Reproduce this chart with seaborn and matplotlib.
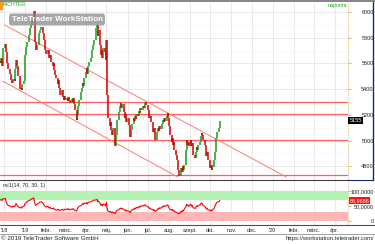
import numpy as np
import pandas as pd
import matplotlib
matplotlib.use("Agg")
import matplotlib.pyplot as plt
import matplotlib.dates as mdates
import seaborn as sns

# ---------------- data ----------------
symbol = "RICHTER"
period_label = "naponta"
rsi_label = "rsi1(14, 70, 30, 1)"
last_price_text = "5155"
last_rsi_text = "68,9686"
watermark = "TeleTrader WorkStation"
copyright_text = "\u00a9 2019 TeleTrader Software GmbH"
url_text = "https://workstation.teletrader.com/"

first_date = "2018-11-26"
last_date = "2019-10-15"
first_open = 5620

close_nov = [5600, 5640, 5580, 5660, 5720]
close_dec = [5750, 5690, 5650, 5600, 5560, 5520, 5490, 5470, 5450, 5480, 5460,
             5560, 5630, 5580, 5500, 5420, 5400, 5410, 5390, 5440, 5460]
close_jan = [5665, 5704, 5728, 5767, 5821, 5837, 5876, 5899, 5938, 6010, 5860,
             5767, 5704, 5743, 5798, 5837, 5860, 5876, 5883, 5837, 5782, 5736, 5704]
close_feb = [5673, 5704, 5658, 5642, 5665, 5611, 5580, 5603, 5549, 5510, 5486,
             5440, 5471, 5409, 5378, 5354, 5393, 5339, 5315, 5346]
close_mar = [5315, 5331, 5308, 5339, 5315, 5292, 5323, 5300, 5331, 5284, 5238,
             5160, 5206, 5269, 5292, 5315, 5378, 5409, 5448, 5424, 5486]
close_apr = [5533, 5564, 5518, 5580, 5611, 5642, 5689, 5704, 5743, 5782, 5837,
             5876, 5899, 5813, 5860, 5743, 5665, 5704, 5642, 5720, 5689, 5627]
close_may = [5782, 5354, 5175, 5113, 5144, 5082, 5043, 5097, 5004, 4957, 5043,
             5113, 5160, 5222, 5269, 5292, 5253, 5284, 5222, 5175, 5206, 5144, 5175]
close_jun = [5121, 5066, 5027, 5082, 5129, 5175, 5152, 5191, 5168, 5206, 5191,
             5230, 5214, 5253, 5238, 5269, 5253, 5284, 5300, 5276]
close_jul = [5238, 5206, 5175, 5191, 5144, 5113, 5066, 5097, 5035, 5004, 5066,
             5097, 5074, 5113, 5090, 5129, 5160, 5144, 5175, 5152, 5191, 5214, 5175]
close_aug = [5113, 5043, 4989, 5020, 4965, 4989, 4926, 4887, 4849, 4810, 4771,
             4724, 4786, 4755, 4802, 4771, 4810, 4926, 5004, 4965, 4989, 4957]
close_sep = [5004, 4957, 4981, 4926, 4887, 4864, 4911, 4950, 4926, 4965, 4989,
             5035, 5059, 5043, 5004, 4965, 4926, 4880, 4911, 4849, 4817]
close_oct = [4786, 4810, 4771, 4794, 4849, 4911, 4965, 5020, 5066, 5097, 5155]

rsi_nov = [70, 72, 68, 72, 74]
rsi_dec = [75, 65, 60, 55, 52, 50, 48, 47, 46, 50, 48, 55, 58, 54, 49, 45, 44,
           45, 43, 48, 50]
rsi_jan = [58, 60, 62, 65, 68, 69, 71, 72, 74, 77, 64, 56, 52, 55, 59, 61, 63,
           64, 64, 58, 53, 50, 48]
rsi_feb = [47, 49, 45, 44, 46, 42, 41, 43, 40, 38, 37, 36, 39, 37, 36, 35, 39,
           37, 36, 39]
rsi_mar = [38, 40, 38, 41, 39, 37, 40, 39, 41, 38, 36, 33, 40, 45, 47, 49, 52,
           55, 58, 56, 60]
rsi_apr = [58, 61, 57, 62, 63, 64, 66, 66, 68, 69, 70, 71, 72, 64, 67, 57, 52,
           55, 50, 56, 54, 50]
rsi_may = [62, 42, 33, 30, 32, 29, 27, 30, 26, 25, 30, 34, 36, 39, 42, 43, 40,
           42, 38, 35, 37, 33, 35]
rsi_jun = [33, 30, 28, 32, 36, 40, 39, 43, 41, 45, 44, 48, 46, 50, 49, 52, 50,
           53, 54, 51]
rsi_jul = [48, 45, 42, 44, 40, 38, 35, 38, 34, 32, 38, 42, 40, 44, 42, 46, 49,
           47, 51, 49, 52, 54, 50]
rsi_aug = [45, 40, 36, 39, 34, 36, 31, 29, 27, 26, 25, 24, 32, 30, 35, 33, 37,
           48, 55, 51, 53, 49]
rsi_sep = [56, 50, 53, 47, 44, 42, 47, 50, 48, 52, 54, 58, 60, 58, 53, 49, 45,
           40, 43, 38, 36]
rsi_oct = [34, 37, 33, 36, 44, 51, 56, 60, 63, 65, 68.9686]

level_lines = [5300, 5204, 5004, 4730]
upper_channel_dates = ["2018-12-02", "2020-01-21"]
upper_channel_prices = [5899, 4716]
lower_channel_dates = ["2018-11-29", "2019-08-14"]
lower_channel_prices = [5463, 4716]

price_ticks = [4800, 5000, 5200, 5400, 5600, 5800, 6000]
price_minor = [4900, 5100, 5300, 5500, 5700, 5900]
rsi_ticks = [0, 50, 100]
rsi_tick_labels = ["0", "50,0000", "100,0000"]
rsi_bands = [(70, 100), (0, 30)]

month_ticks = ["2018-12-01", "2019-01-01", "2019-02-01", "2019-03-01", "2019-04-01",
               "2019-05-01", "2019-06-01", "2019-07-01", "2019-08-01", "2019-09-01",
               "2019-10-01", "2019-11-01", "2019-12-01", "2020-01-01", "2020-02-01",
               "2020-03-01", "2020-04-01"]
month_labels = ["'18", "'19", "febr.", "márc.", "ápr.", "máj.", "jún.", "júl.",
                "aug.", "szept.", "okt.", "nov.", "dec.", "'20", "febr.", "márc.", "ápr."]

# ---------------- build ----------------
dates = pd.bdate_range(first_date, last_date)
close = np.array(close_nov + close_dec + close_jan + close_feb + close_mar + close_apr +
                 close_may + close_jun + close_jul + close_aug + close_sep + close_oct, float)
rsi = np.array(rsi_nov + rsi_dec + rsi_jan + rsi_feb + rsi_mar + rsi_apr + rsi_may +
               rsi_jun + rsi_jul + rsi_aug + rsi_sep + rsi_oct, float)
n = min(len(dates), len(close), len(rsi))
dates = dates[:n]
close = close[:n]
rsi = rsi[:n]
opens = np.r_[first_open, close[:-1]]
df = pd.DataFrame({"date": dates, "open": opens, "close": close, "rsi": rsi})

sns.set_theme(style="white")
plt.rcParams["font.family"] = ["Liberation Sans", "DejaVu Sans"]

W, H = 375, 244
fig = plt.figure(figsize=(W / 100, H / 100), dpi=100)
fig.patch.set_facecolor("white")


def rect(x0, y0, x1, y1):
    return [x0 / W, 1 - y1 / H, (x1 - x0) / W, (y1 - y0) / H]


ax = fig.add_axes(rect(0, 1.5, 348, 179.5))
axr = fig.add_axes(rect(0, 180.5, 348, 224.5))

x0 = mdates.date2num(pd.Timestamp("2019-01-01")) - 25 / 0.679
x1 = mdates.date2num(pd.Timestamp("2019-01-01")) + 323 / 0.679
mt = [mdates.date2num(pd.Timestamp(d)) for d in month_ticks]

grid_c = "#e6e6e6"
for a in (ax, axr):
    a.set_facecolor("white")
    a.set_xlim(x0, x1)
    for s in a.spines.values():
        s.set_visible(False)
    for m in mt:
        a.axvline(m, color=grid_c, lw=0.6, zorder=0)

ax.set_ylim(4697, 6082)
for p in price_ticks:
    ax.axhline(p, color=grid_c, lw=0.6, zorder=0)
for p in price_minor:
    ax.axhline(p, color="#e8e8e8", lw=0.6, ls=(0, (1, 2)), zorder=0)

# levels and channel
line_c = "#ff6060"
for lv in level_lines:
    ax.axhline(lv, color=line_c, lw=0.9, zorder=2)
ux = [mdates.date2num(pd.Timestamp(d)) for d in upper_channel_dates]
lx = [mdates.date2num(pd.Timestamp(d)) for d in lower_channel_dates]
ax.plot(ux, upper_channel_prices, color="#ff7878", lw=0.7, zorder=2)
ax.plot(lx, lower_channel_prices, color="#ff7878", lw=0.7, zorder=2)

# candles
dnum = mdates.date2num(df["date"])
up = (df["close"] >= df["open"]).to_numpy()
lo = np.minimum(df["open"], df["close"]).to_numpy()
hi = np.maximum(df["open"], df["close"]).to_numpy()
ax.vlines(dnum[up], lo[up], hi[up], colors="#1c9a1c", lw=1.1, zorder=3)
ax.vlines(dnum[~up], lo[~up], hi[~up], colors="#d40000", lw=1.1, zorder=3)

# RSI panel
axr.set_ylim(-11.7, 135)
axr.axhspan(rsi_bands[0][0], rsi_bands[0][1], color="#b4f2b4", lw=0, zorder=0.5)
axr.axhspan(rsi_bands[1][0], rsi_bands[1][1], color="#ffb6b6", lw=0, zorder=0.5)
sns.lineplot(x=dnum, y=df["rsi"].to_numpy(), ax=axr, color="#ff0000", lw=0.8, zorder=3)
axr.set_xlabel("")
axr.set_ylabel("")

fs = 4.0
# axes ticks
ax.set_xticks([])
ax.yaxis.tick_right()
ax.set_yticks(price_ticks)
ax.set_yticklabels([str(p) for p in price_ticks])
ax.tick_params(axis="y", length=2, width=0.6, color="#c8b060", pad=16.5,
               labelsize=fs, labelcolor="#222222")
for lab in ax.get_yticklabels():
    lab.set_horizontalalignment("right")

axr.yaxis.tick_right()
axr.set_yticks(rsi_ticks)
axr.set_yticklabels(rsi_tick_labels)
axr.tick_params(axis="y", length=2, width=0.6, color="#c8b060", pad=16.5,
                labelsize=fs, labelcolor="#222222")
for lab in axr.get_yticklabels():
    lab.set_horizontalalignment("right")
axr.set_xticks(mt)
axr.set_xticklabels(month_labels)
axr.tick_params(axis="x", length=0, pad=2.5, labelsize=fs, labelcolor="#222222")

# frames
ax.plot([1, 1], [0, 1], transform=ax.transAxes, color="#d8c47a", lw=0.8,
        ls=(0, (1, 1)), clip_on=False)
axr.plot([1, 1], [0, 1], transform=axr.transAxes, color="#d8c47a", lw=0.8,
         ls=(0, (1, 1)), clip_on=False)
fig.add_artist(plt.Line2D([0, 1], [1 - 0.6 / H, 1 - 0.6 / H], color="#707070", lw=1.2))
fig.add_artist(plt.Line2D([0, 348 / W], [1 - 180 / H, 1 - 180 / H], color="#404040", lw=0.8))
fig.add_artist(plt.Line2D([348 / W, 373 / W], [1 - 180 / H, 1 - 180 / H], color="#1a2a6a", lw=0.8))
fig.add_artist(plt.Line2D([373 / W, 373 / W], [1 - 1.5 / H, 1 - 180 / H], color="#1a2a6a", lw=1.0))
fig.add_artist(plt.Line2D([0, 1], [1 - 225 / H, 1 - 225 / H], color="#505050", lw=0.8))
fig.add_artist(plt.Line2D([0, 1], [1 - 234 / H, 1 - 234 / H], color="#909090", lw=0.6))

# labels
fig.text(3 / W, 1 - 5 / H, symbol, color="#22aa22", fontsize=3.8, va="center", ha="left")
fig.add_artist(plt.Rectangle((0, 1 - 9 / H), 2 / W, 7.5 / H, color="#f0a020"))
fig.text(347 / W, 1 - 5 / H, period_label, color="#22aa22", fontsize=3.9, va="center", ha="right")
fig.text(57 / W, 1 - 19.5 / H, watermark, color="white", fontsize=5.9, fontweight="bold",
         va="center", ha="center",
         bbox=dict(boxstyle="round,pad=0.3", fc="#8a8a8a", ec="none", alpha=0.75))
fig.text(3 / W, 1 - 185 / H, rsi_label, color="#222222", fontsize=3.8, va="center", ha="left")

# last value boxes
ax.text(1.004, df["close"].iloc[-1], last_price_text, transform=ax.get_yaxis_transform(),
        color="white", fontsize=4.1, va="center", ha="left",
        bbox=dict(boxstyle="square,pad=0.2", fc="black", ec="none"))
axr.text(1.004, df["rsi"].iloc[-1], last_rsi_text, transform=axr.get_yaxis_transform(),
         color="white", fontsize=4.0, va="center", ha="left",
         bbox=dict(boxstyle="square,pad=0.15", fc="#ff1010", ec="none"))

fig.text(1 / W, 1 - 239 / H, copyright_text, color="#222222", fontsize=4.5, va="center", ha="left")
fig.text(374 / W, 1 - 238.5 / H, url_text, color="#222222", fontsize=4.2, va="center", ha="right")

fig.savefig("out.png", dpi=100, facecolor="white")
